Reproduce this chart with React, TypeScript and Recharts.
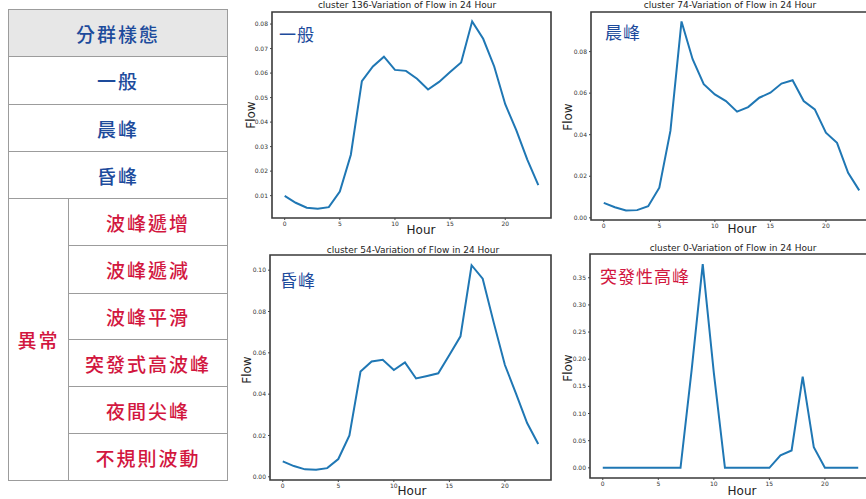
import React from 'react';
import { LineChart, Line, XAxis, YAxis, ReferenceArea } from 'recharts';

const HOURS = [0, 1, 2, 3, 4, 5, 6, 7, 8, 9, 10, 11, 12, 13, 14, 15, 16, 17, 18, 19, 20, 21, 22, 23];
const HOUR_TICKS = [0, 5, 10, 15, 20];

const GENERAL_FLOW = [0.0099, 0.0071, 0.0051, 0.0047, 0.0053, 0.0117, 0.0267, 0.0567, 0.0627, 0.0667, 0.0613, 0.0609, 0.0577, 0.0533, 0.0564, 0.0604, 0.0643, 0.0811, 0.074, 0.0627, 0.0473, 0.0367, 0.0247, 0.0143];
const MORNING_FLOW = [0.0072, 0.0051, 0.0035, 0.0037, 0.0056, 0.0145, 0.0418, 0.0945, 0.0763, 0.0643, 0.0594, 0.0562, 0.0511, 0.0533, 0.0578, 0.0602, 0.0646, 0.0662, 0.0562, 0.0522, 0.041, 0.0361, 0.0217, 0.0132];
const EVENING_FLOW = [0.0075, 0.0052, 0.0036, 0.0034, 0.0042, 0.0086, 0.02, 0.0509, 0.0558, 0.0566, 0.0517, 0.0554, 0.0476, 0.0488, 0.0501, 0.059, 0.068, 0.1024, 0.0959, 0.0745, 0.0541, 0.0403, 0.026, 0.0159];
const BURST_FLOW = [0, 0, 0, 0, 0, 0, 0, 0, 0.18, 0.375, 0.175, 0, 0, 0, 0, 0, 0.023, 0.032, 0.168, 0.038, 0, 0, 0, 0];

const GENERAL_TICKS = [0.01, 0.02, 0.03, 0.04, 0.05, 0.06, 0.07, 0.08];
const MORNING_TICKS = [0, 0.02, 0.04, 0.06, 0.08];
const EVENING_TICKS = [0, 0.02, 0.04, 0.06, 0.08, 0.1];
const BURST_TICKS = [0, 0.05, 0.1, 0.15, 0.2, 0.25, 0.3, 0.35];

const HEADER = '分群樣態';
const NORMAL_TYPES = ['一般', '晨峰', '昏峰'];
const ANOMALY_GROUP = '異常';
const ANOMALY_TYPES = ['波峰遞增', '波峰遞減', '波峰平滑', '突發式高波峰', '夜間尖峰', '不規則波動'];

const BLUE = '#1d4b9c';
const RED = '#d2173f';
const CJK = '"Noto Sans CJK TC", "Noto Sans CJK SC", sans-serif';
const SANS = '"DejaVu Sans", sans-serif';
const X_DOMAIN: [number, number] = [-1.15, 24.15];

function Cell({ x, y, w, h, text, color, bg }: any) {
  return (
    <div
      style={{
        position: 'absolute', left: x, top: y, width: w, height: h + 1, boxSizing: 'border-box',
        border: '1px solid #9c9c9c', background: bg || '#fff', display: 'flex',
        alignItems: 'center', justifyContent: 'center', color, fontFamily: CJK,
        fontSize: 19, letterSpacing: 2, fontWeight: 500,
      }}
    >
      {text}
    </div>
  );
}

function MiniChart({ frame, values, ticks, title, tag, tagColor, tagPos, titlePos, flowPos, hourPos }: any) {
  const [fx, fy, fw, fh] = frame;
  const yAxisW = 26, topPad = 2, xAxisH = 12, rightPad = 2;
  const data = HOURS.map((h, i) => ({ hour: h, flow: values[i] }));
  // matplotlib-style 5% margins
  const lo = Math.min(...values), hi = Math.max(...values);
  const pad = (hi - lo) * 0.05;
  const yDomain: [number, number] = [lo - pad, hi + pad];

  return (
    <>
      <div style={{ position: 'absolute', left: fx - yAxisW, top: fy - topPad }}>
        <LineChart
          width={yAxisW + fw + rightPad}
          height={topPad + fh + xAxisH}
          data={data}
          margin={{ top: topPad, right: rightPad, left: 0, bottom: 0 }}
        >
          <XAxis
            dataKey="hour" type="number" domain={X_DOMAIN} ticks={HOUR_TICKS} interval={0}
            allowDataOverflow height={xAxisH} axisLine={false} tickSize={2}
            tickLine={{ stroke: '#444' }} tick={{ fontSize: 6, fill: '#333', fontFamily: SANS }}
          />
          <YAxis
            type="number" domain={yDomain} ticks={ticks} interval={0} allowDataOverflow
            width={yAxisW} axisLine={false} tickSize={2} tickLine={{ stroke: '#444' }}
            tick={{ fontSize: 6, fill: '#333', fontFamily: SANS }}
            tickFormatter={(v: number) => v.toFixed(2)}
          />
          <ReferenceArea
            x1={X_DOMAIN[0]} x2={X_DOMAIN[1]} y1={yDomain[0]} y2={yDomain[1]}
            fill="none" stroke="#3a3a3a" strokeWidth={1.6} ifOverflow="visible"
          />
          <Line type="linear" dataKey="flow" stroke="#1f77b4" strokeWidth={2} dot={false} isAnimationActive={false} />
        </LineChart>
      </div>
      <div style={{ position: 'absolute', left: titlePos[0], top: titlePos[1], transform: 'translate(-50%, -50%)', fontFamily: SANS, fontSize: 9, color: '#222', whiteSpace: 'nowrap' }}>
        {title}
      </div>
      <div style={{ position: 'absolute', left: tagPos[0], top: tagPos[1], fontFamily: CJK, fontSize: 17, color: tagColor, whiteSpace: 'nowrap', letterSpacing: 1, lineHeight: '20px' }}>
        {tag}
      </div>
      <div style={{ position: 'absolute', left: flowPos[0], top: flowPos[1], transform: 'translate(-50%, -50%) rotate(-90deg)', fontFamily: SANS, fontSize: 12, color: '#222' }}>
        Flow
      </div>
      <div style={{ position: 'absolute', left: hourPos[0], top: hourPos[1], transform: 'translate(-50%, -50%)', fontFamily: SANS, fontSize: 12, color: '#222', lineHeight: '13px' }}>
        Hour
      </div>
    </>
  );
}

export default function App() {
  const rowY = [56, 104, 151];
  const anomalyY = [198, 245, 293, 339, 386, 433, 480];
  return (
    <div style={{ position: 'fixed', left: 0, top: 0, width: 866, height: 499, overflow: 'hidden', background: '#fff' }}>
      {/* Table */}
      <Cell x={8} y={9} w={220} h={47} text={HEADER} color={BLUE} bg="#e7e7e7" />
      {NORMAL_TYPES.map((t, i) => (
        <Cell key={t} x={8} y={rowY[i]} w={220} h={(i < 2 ? rowY[i + 1] : 198) - rowY[i]} text={t} color={BLUE} />
      ))}
      <Cell x={8} y={198} w={61} h={282} text={ANOMALY_GROUP} color={RED} />
      {ANOMALY_TYPES.map((t, i) => (
        <Cell key={t} x={68} y={anomalyY[i]} w={160} h={anomalyY[i + 1] - anomalyY[i]} text={t} color={RED} />
      ))}

      {/* Charts */}
      <MiniChart
        frame={[272, 12, 279, 206]} values={GENERAL_FLOW} ticks={GENERAL_TICKS}
        title="cluster 136-Variation of Flow in 24 Hour" titlePos={[407, 5]}
        tag="一般" tagColor={BLUE} tagPos={[279, 24]} flowPos={[251, 115]} hourPos={[421, 230]}
      />
      <MiniChart
        frame={[591, 12, 281, 208]} values={MORNING_FLOW} ticks={MORNING_TICKS}
        title="cluster 74-Variation of Flow in 24 Hour" titlePos={[730, 5]}
        tag="晨峰" tagColor={BLUE} tagPos={[605, 22]} flowPos={[568, 117]} hourPos={[742, 229]}
      />
      <MiniChart
        frame={[270, 255, 281, 225]} values={EVENING_FLOW} ticks={EVENING_TICKS}
        title="cluster 54-Variation of Flow in 24 Hour" titlePos={[413, 250]}
        tag="昏峰" tagColor={BLUE} tagPos={[280, 270]} flowPos={[247, 370]} hourPos={[412, 491]}
      />
      <MiniChart
        frame={[590, 254, 281, 224]} values={BURST_FLOW} ticks={BURST_TICKS}
        title="cluster 0-Variation of Flow in 24 Hour" titlePos={[733, 248]}
        tag="突發性高峰" tagColor={RED} tagPos={[600, 266]} flowPos={[568, 368]} hourPos={[742, 491]}
      />
    </div>
  );
}
